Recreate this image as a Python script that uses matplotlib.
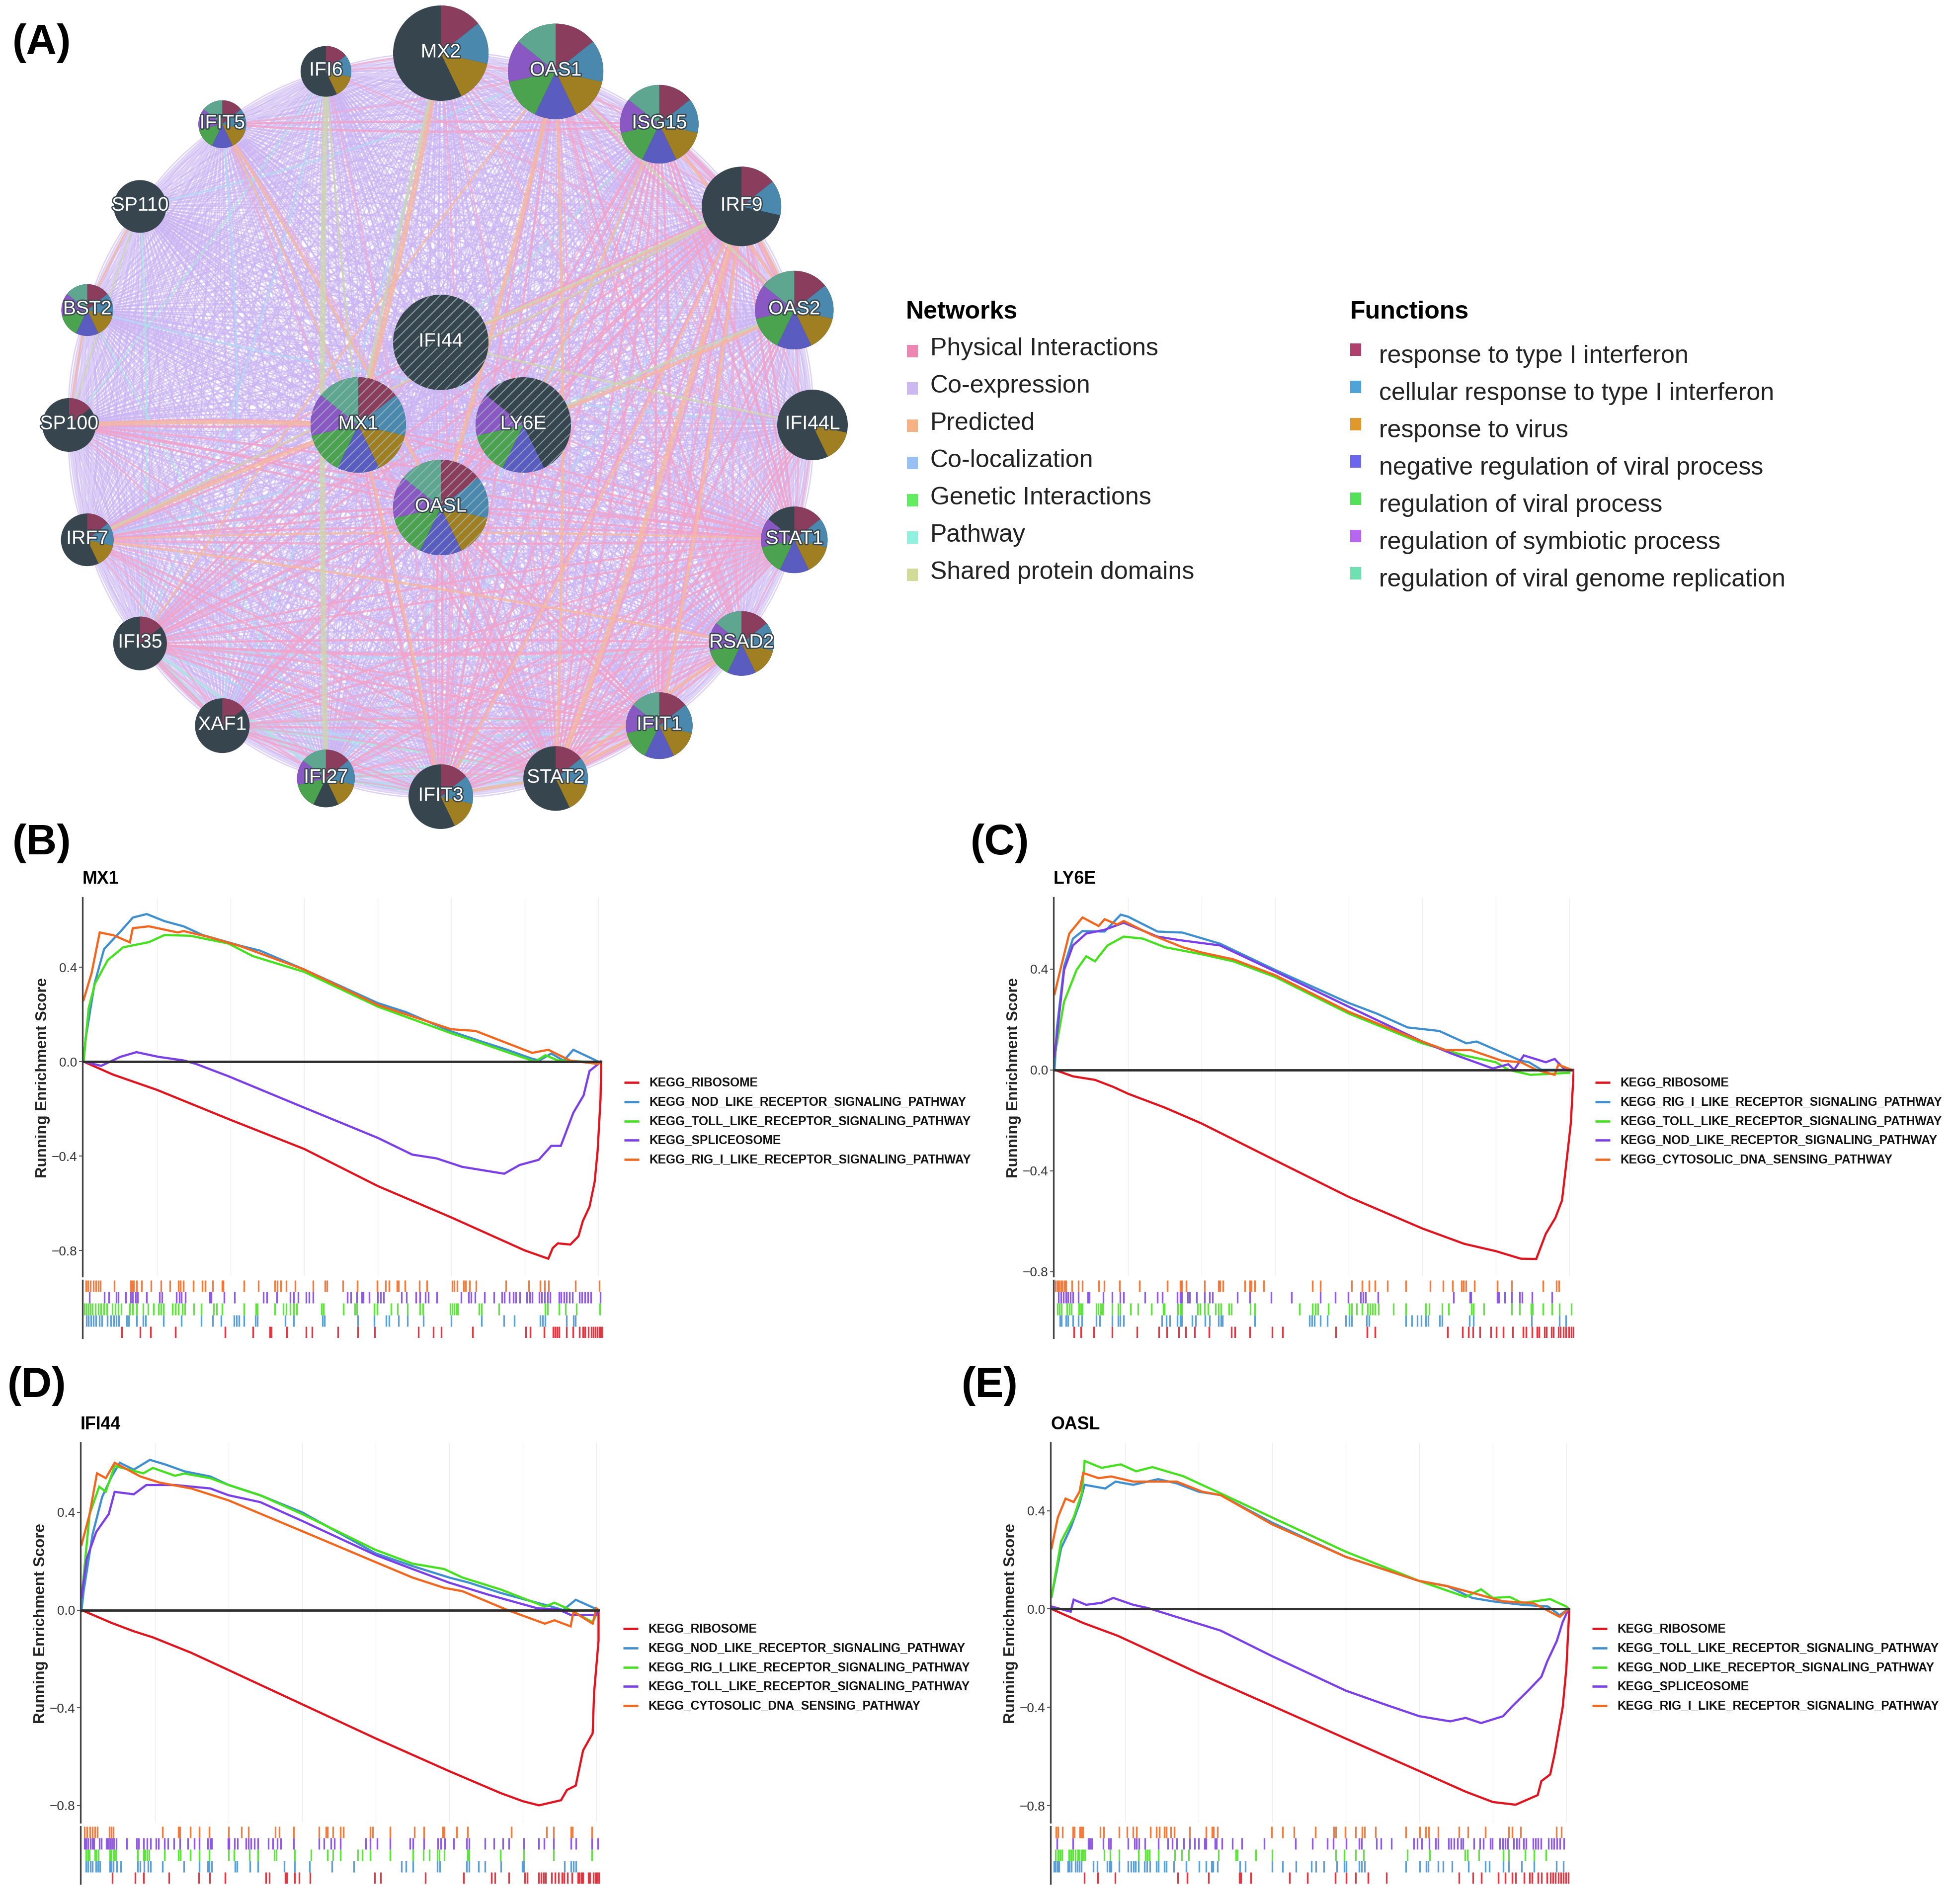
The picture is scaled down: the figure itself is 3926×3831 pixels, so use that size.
import numpy as np
import matplotlib
matplotlib.use('Agg')
import matplotlib.pyplot as plt
import matplotlib.patheffects as pe
from matplotlib.patches import Wedge, Circle, Rectangle
from matplotlib.collections import LineCollection

plt.rcParams['font.family'] = ['Liberation Sans', 'DejaVu Sans']
plt.rcParams['hatch.linewidth'] = 0.5

W, H = 3926, 3831
DPI = 300

# ---- panel A: network ----
RING_GENES = ['MX2', 'OAS1', 'ISG15', 'IRF9', 'OAS2', 'IFI44L', 'STAT1', 'RSAD2', 'IFIT1', 'STAT2',
              'IFIT3', 'IFI27', 'XAF1', 'IFI35', 'IRF7', 'SP100', 'BST2', 'SP110', 'IFIT5', 'IFI6']
RING_RADII = [96, 96, 79, 80, 79, 71, 67, 65, 67, 65, 65, 58, 55, 54, 53, 54, 52, 53, 48, 51]
QUERY_GENES = ['IFI44', 'LY6E', 'OASL', 'MX1']
QUERY_RADII = [96, 96, 96, 96]

FUNCTIONS = ['response to type I interferon', 'cellular response to type I interferon', 'response to virus',
             'negative regulation of viral process', 'regulation of viral process',
             'regulation of symbiotic process', 'regulation of viral genome replication']
FUNCTION_COLORS = ['#8a3d5c', '#4a88ad', '#a07f22', '#5a5cc0', '#4ba34f', '#8a58c2', '#5ea68f']
FUNCTION_SWATCH = ['#b0406e', '#4fa3d8', '#e0982c', '#6a66ee', '#55e05a', '#b866f0', '#70e0b0']
# which functions (index into FUNCTIONS) each gene has
GENE_FUNCTIONS = {
    'MX2': [0, 1, 2], 'OAS1': [0, 1, 2, 3, 4, 5, 6], 'ISG15': [0, 1, 2, 3, 4, 5, 6], 'IRF9': [0, 1],
    'OAS2': [0, 1, 2, 3, 4, 5, 6], 'IFI44L': [2], 'STAT1': [0, 1, 2, 3, 4, 5], 'RSAD2': [0, 1, 2, 3, 4, 5, 6],
    'IFIT1': [0, 1, 2, 3, 4, 5, 6], 'STAT2': [0, 1, 2], 'IFIT3': [0, 1, 2], 'IFI27': [0, 1, 2, 4, 5, 6],
    'XAF1': [0], 'IFI35': [0], 'IRF7': [0, 1, 2], 'SP100': [0], 'BST2': [0, 1, 2, 3, 4, 5, 6], 'SP110': [],
    'IFIT5': [0, 1, 2, 3, 4, 5, 6], 'IFI6': [0, 1, 2], 'IFI44': [], 'LY6E': [3, 4, 5],
    'OASL': [0, 1, 2, 3, 4, 5, 6], 'MX1': [0, 1, 2, 3, 4, 5, 6],
}

NETWORKS = ['Physical Interactions', 'Co-expression', 'Predicted', 'Co-localization',
            'Genetic Interactions', 'Pathway', 'Shared protein domains']
NETWORK_SWATCH = ['#ee86b4', '#cdb8f2', '#f6b184', '#97c1f5', '#62ec62', '#90f2de', '#d2dc98']

PHYSICAL_THICK = {
    'STAT1': ['IRF9', 'STAT2', 'IRF7', 'IFI35', 'MX1', 'OASL', 'IFIT3', 'XAF1', 'IFI27', 'SP100', 'ISG15'],
    'STAT2': ['IRF9', 'IRF7', 'IFI35', 'IFIT1', 'RSAD2', 'OAS2', 'ISG15', 'OASL', 'MX1', 'IFI44L'],
    'IRF9': ['IFI35', 'IRF7', 'ISG15', 'OASL', 'IFIT1', 'IFIT3', 'OAS2', 'XAF1'],
    'OASL': ['IRF7', 'IFI35', 'IFIT1', 'IFIT3', 'SP100', 'ISG15'],
    'MX1': ['SP100', 'IRF7', 'IFI35', 'IFIT3'],
    'IFIT1': ['IFIT3', 'ISG15', 'IFI35', 'XAF1'],
    'IFIT3': ['ISG15', 'XAF1', 'RSAD2'],
    'OAS1': ['OAS2', 'IFIT3', 'RSAD2'],
    'IFIT5': ['ISG15'],
    'IFI35': ['XAF1', 'RSAD2'],
}
PHYSICAL_THIN = {
    'IFI6': ['MX2', 'OAS1', 'OAS2', 'IFIT3'],
    'MX2': ['ISG15', 'IRF9', 'OAS2', 'STAT2', 'IFIT3', 'STAT1', 'RSAD2'],
    'IRF7': ['RSAD2', 'IFIT1', 'IFIT3', 'XAF1', 'IFI27'],
    'ISG15': ['OAS2', 'RSAD2', 'STAT1', 'XAF1'],
    'OAS2': ['STAT1', 'IFIT1', 'IFIT3', 'XAF1', 'IFI27'],
    'RSAD2': ['STAT1', 'IFI27', 'XAF1', 'IFI35', 'IRF9'],
    'IFI27': ['STAT2', 'IFIT1', 'IFIT3', 'IFI35', 'IRF9'],
    'XAF1': ['STAT2', 'IFI27', 'RSAD2', 'OASL'],
    'IFI44L': ['STAT1', 'IRF9', 'IFIT1', 'IFI27', 'IFIT3'],
    'OAS1': ['STAT1', 'STAT2', 'IRF9', 'IFIT1', 'IFIT5'],
    'SP100': ['STAT2', 'IFIT3'],
    'LY6E': ['STAT1', 'STAT2', 'IFI35', 'IRF7', 'IFIT3'],
    'IFI44': ['STAT1', 'IFI35', 'IFIT3'],
    'IFIT5': ['OASL', 'IFIT3'],
}
PREDICTED = [('IRF9', 'STAT2', 2.4), ('IRF9', 'IFIT1', 1.6), ('IRF9', 'IFI44', 1.6), ('OAS2', 'LY6E', 1.8),
             ('SP100', 'MX1', 2.2), ('IRF7', 'MX1', 2.0), ('IRF7', 'RSAD2', 1.2), ('IRF7', 'STAT1', 1.0),
             ('MX2', 'MX1', 2.6), ('OAS1', 'STAT2', 1.4), ('OAS1', 'OASL', 2.2), ('ISG15', 'LY6E', 1.2),
             ('IFIT5', 'OASL', 1.4), ('IFIT5', 'MX1', 1.0), ('STAT2', 'IFIT1', 1.6), ('STAT2', 'RSAD2', 1.6),
             ('IRF9', 'OAS2', 1.6), ('ISG15', 'OAS2', 1.4), ('BST2', 'SP110', 1.0), ('SP100', 'BST2', 1.0),
             ('IFI35', 'OAS1', 1.0), ('IFIT3', 'STAT2', 1.6), ('MX1', 'IFIT3', 1.4), ('IRF9', 'IFIT3', 1.2)]
SHARED = [('IFI6', 'IFI27', 2.6), ('MX2', 'MX1', 1.4), ('OAS2', 'LY6E', 1.0), ('OAS1', 'OAS2', 1.0),
          ('IFI44', 'IFI44L', 1.0), ('IRF7', 'IRF9', 1.0), ('SP110', 'SP100', 0.8), ('IFI6', 'MX1', 1.0),
          ('IFI44', 'IRF9', 1.0)]
PATHWAY = [('SP110', 'IFI35', 0.8), ('XAF1', 'STAT2', 1.0), ('IFI27', 'IFIT3', 1.4), ('IFI35', 'IFI27', 1.2),
           ('IFIT3', 'STAT2', 1.2), ('XAF1', 'IFIT1', 0.8), ('IFI27', 'STAT2', 1.0), ('ISG15', 'IFI44', 0.6),
           ('IFI35', 'XAF1', 1.2), ('IFI6', 'SP100', 0.6), ('BST2', 'IFI27', 0.6), ('IFIT1', 'IFI27', 0.8)]
COLOCAL = [('IFI27', 'IFIT3'), ('XAF1', 'IFIT3'), ('IFI35', 'IFIT3'), ('STAT2', 'IFI27'), ('IFIT1', 'XAF1'),
           ('OAS1', 'SP110'), ('IFI6', 'IFI35'), ('MX2', 'XAF1'), ('ISG15', 'IFI27'), ('RSAD2', 'IFI35'),
           ('OAS2', 'IRF7'), ('IFI44L', 'BST2'), ('IFIT5', 'XAF1'), ('IRF9', 'IFI27')]

# ---- panels B-E: running score curves, (rank / 5000, running score) ----
B_RIBO = [(0, 0), (.4, -.055), (1, -.12), (2, -.247), (3, -.37), (4, -.527), (5, -.66), (6, -.80), (6.32, -.835),
          (6.38, -.79), (6.45, -.77), (6.62, -.775), (6.73, -.74), (6.79, -.675), (6.88, -.615), (6.95, -.51),
          (6.99, -.38), (7.03, -.16), (7.04, 0)]
B_NOD = [(0, 0), (.03, .1), (.15, .33), (.28, .477), (.5, .55), (.67, .61), (.86, .625), (1.1, .595), (1.36, .573),
         (1.62, .536), (2.14, .49), (2.4, .47), (3, .39), (4, .248), (4.38, .21), (4.98, .13), (5.41, .085),
         (5.76, .05), (6.1, .012), (6.2, .005), (6.36, .034), (6.53, .004), (6.66, .05), (7.0, 0)]
B_TOLL = [(0, 0), (.07, .226), (.155, .33), (.33, .43), (.54, .484), (.89, .506), (1.1, .536), (1.45, .533),
          (1.97, .5), (2.3, .447), (3, .38), (4, .233), (5, .12), (5.41, .078), (5.76, .04), (6.14, 0), (6.28, .027),
          (6.45, .005), (7, -.003)]
B_SPLICE = [(0, 0), (.24, -.018), (.5, .02), (.72, .04), (1.02, .02), (1.36, .005), (1.53, -.01), (1.97, -.062),
            (3, -.195), (4, -.323), (4.47, -.394), (4.8, -.41), (5.15, -.446), (5.72, -.475), (5.93, -.438),
            (6.19, -.416), (6.36, -.357), (6.49, -.357), (6.66, -.217), (6.8, -.143), (6.88, -.04), (7, -.01), (7.03, 0)]
B_RIG = [(0, .26), (.11, .375), (.22, .547), (.41, .535), (.63, .505), (.67, .565), (.89, .573), (1.28, .547),
         (1.36, .553), (1.7, .528), (2.14, .488), (3, .39), (4, .24), (5, .137), (5.33, .13), (5.76, .078),
         (6.1, .037), (6.32, .05), (6.62, .004), (7, -.01), (7.03, 0)]

C_RIBO = [(0, 0), (.25, -.026), (.55, -.04), (.8, -.068), (1, -.095), (1.5, -.15), (2, -.213), (3, -.359), (4, -.504),
          (5, -.629), (5.57, -.69), (6, -.719), (6.34, -.749), (6.55, -.75), (6.68, -.65), (6.81, -.587), (6.9, -.518),
          (6.95, -.393), (7.02, -.213), (7.06, 0)]
C_RIG = [(0, 0), (.03, .16), (.13, .41), (.25, .52), (.38, .55), (.68, .548), (.9, .615), (1, .607), (1.4, .548),
         (1.74, .544), (2.25, .5), (3, .396), (4, .265), (4.38, .223), (4.8, .168), (5.23, .154), (5.6, .105),
         (5.74, .112), (6.34, .036), (6.45, .03), (6.62, 0), (7, .0)]
C_TOLL = [(0, .05), (.13, .27), (.3, .396), (.43, .45), (.55, .43), (.72, .493), (.94, .528), (1.2, .52), (1.5, .486),
          (2, .458), (2.43, .43), (3, .368), (4, .223), (5, .105), (5.57, .057), (6, .03), (6.17, 0), (6.47, -.02),
          (7, -.012)]
C_NOD = [(0, .05), (.13, .396), (.25, .493), (.43, .54), (.68, .555), (.94, .583), (1.4, .528), (1.7, .514),
         (2.25, .493), (3, .39), (4, .25), (5, .112), (5.4, .064), (5.96, .005), (6.17, .022), (6.25, 0), (6.38, .057),
         (6.68, .03), (6.8, .043), (6.94, 0), (7.03, 0)]
C_DNA = [(0, .3), (.09, .41), (.2, .54), (.38, .604), (.6, .57), (.68, .597), (.85, .576), (.94, .59), (1.32, .535),
         (1.74, .486), (2, .465), (2.43, .438), (3, .375), (4, .23), (5, .112), (5.32, .078), (5.66, .078), (6.08, .036),
         (6.34, .03), (6.55, 0), (6.8, -.02), (6.85, .02), (7.03, 0)]

D_RIBO = [(0, 0), (.41, -.053), (.71, -.087), (.97, -.112), (1.49, -.175), (2, -.246), (3, -.386), (4, -.526), (5, -.66),
          (5.7, -.75), (6, -.783), (6.22, -.8), (6.52, -.779), (6.6, -.737), (6.72, -.719), (6.82, -.575), (6.95, -.505),
          (6.97, -.337), (7.03, -.126), (7.03, 0)]
D_NOD = [(0, 0), (.03, .08), (.15, .31), (.28, .463), (.41, .547), (.52, .603), (.71, .575), (.93, .615), (1.14, .596),
         (1.4, .568), (1.75, .547), (2, .512), (2.43, .47), (3, .4), (4, .232), (4.5, .18), (5, .133), (5.27, .112),
         (5.7, .07), (6.04, .042), (6.39, .014), (6.55, 0), (6.72, .042), (7.03, 0)]
D_RIG = [(0, .05), (.11, .393), (.24, .505), (.33, .485), (.45, .59), (.84, .56), (.97, .582), (1.27, .55), (1.4, .559),
         (1.75, .54), (2, .512), (2.43, .47), (3, .393), (4, .246), (4.5, .19), (4.93, .168), (5.18, .133), (5.7, .084),
         (6.3, .014), (6.43, .03), (6.65, 0), (6.95, -.05), (7.03, 0)]
D_TOLL = [(0, .05), (.07, .21), (.2, .32), (.37, .393), (.45, .484), (.71, .474), (.88, .512), (1.27, .512), (1.75, .498),
          (2, .47), (2.43, .442), (3, .365), (4, .225), (4.5, .168), (5, .112), (5.53, .063), (6.2, .007), (6.48, .003),
          (6.65, -.02), (7, -.02), (7.03, 0)]
D_DNA = [(0, .267), (.11, .393), (.21, .56), (.33, .54), (.45, .603), (.8, .547), (1.06, .522), (1.49, .498), (2, .449),
         (3, .323), (4, .196), (4.5, .133), (4.93, .091), (5.18, .077), (5.79, 0), (6.3, -.056), (6.43, -.042),
         (6.65, -.067), (6.69, -.007), (6.95, -.056), (7, .007), (7.03, 0)]

E_RIBO = [(0, 0), (.43, -.057), (.9, -.109), (1.45, -.185), (2, -.262), (3, -.394), (4, -.527), (5, -.659), (5.63, -.743),
          (6, -.785), (6.31, -.796), (6.61, -.757), (6.66, -.7), (6.78, -.673), (6.84, -.59), (6.95, -.4), (7, -.241),
          (7.04, 0)]
E_TOLL = [(0, .05), (.13, .247), (.26, .33), (.38, .428), (.45, .505), (.73, .49), (.87, .518), (1.11, .505), (1.45, .528),
          (1.7, .511), (2, .477), (2.3, .463), (3, .351), (4, .212), (5, .114), (5.38, .093), (5.72, .045), (6, .031),
          (6.4, .017), (6.75, .01), (6.91, -.025), (7.03, 0)]
E_NOD = [(0, .05), (.13, .275), (.3, .372), (.41, .47), (.45, .602), (.68, .574), (.94, .588), (1.15, .56), (1.37, .577),
         (1.79, .54), (2, .511), (2.3, .47), (3, .372), (4, .233), (5, .114), (5.63, .049), (5.84, .08), (6, .045),
         (6.23, .049), (6.4, .024), (6.78, .04), (7, .01), (7.03, 0)]
E_SPLICE = [(0, .01), (.26, -.011), (.3, .038), (.47, .017), (.68, .025), (.84, .045), (1.11, .017), (1.32, .003),
            (1.62, -.025), (2.3, -.088), (3, -.192), (4, -.332), (4.52, -.387), (5, -.436), (5.42, -.457), (5.63, -.443),
            (5.84, -.464), (6.14, -.436), (6.27, -.394), (6.48, -.332), (6.66, -.276), (6.74, -.213), (6.87, -.13),
            (6.95, -.053), (7.03, 0)]
E_RIG = [(0, .247), (.085, .372), (.19, .449), (.3, .435), (.38, .477), (.43, .553), (.64, .532), (.81, .539), (1.11, .518),
         (1.7, .518), (2.05, .477), (2.3, .463), (3, .344), (4, .212), (5, .114), (5.38, .093), (5.72, .066), (6.14, .031),
         (6.55, .024), (6.91, -.032), (7.03, 0)]

# ---- hit positions, digitised along the rug; converted to rank with each panel's origin and scale ----
B_RUG_ORANGE = [95, 100, 107, 115, 122, 128, 133, 170, 212, 216, 220, 228, 241, 266, 292, 316, 337, 343, 351, 377, 400, 408,
                428, 452, 455, 510, 547, 590, 597, 606, 620, 643, 690, 722, 727, 769, 806, 859, 880, 890, 910, 915, 932,
                969, 989, 1055, 1060, 1068, 1085, 1090, 1101, 1117, 1196, 1256, 1286, 1297, 1308, 1378, 1440]
B_RUG_PURPLE = [104, 143, 155, 175, 180, 200, 212, 218, 225, 231, 254, 288, 295, 332, 340, 346, 356, 420, 424, 457, 485, 560,
                570, 595, 630, 640, 652, 672, 680, 690, 780, 790, 805, 818, 822, 838, 860, 868, 875, 922, 935, 960, 970,
                985, 992, 1015, 1078, 1098, 1105, 1115, 1140, 1165, 1185, 1192, 1205, 1215, 1222, 1232, 1250, 1258, 1265,
                1283, 1290, 1297, 1305, 1312, 1335, 1340, 1348, 1355, 1362, 1370, 1388, 1395, 1403, 1410, 1418, 1443]
B_RUG_GREEN = [92, 97, 102, 107, 112, 120, 128, 135, 142, 150, 165, 172, 180, 188, 210, 218, 228, 245, 258, 272, 285, 292, 298,
               322, 330, 338, 348, 355, 378, 398, 430, 438, 452, 510, 541, 545, 590, 612, 620, 630, 640, 647, 712, 718, 770,
               800, 805, 850, 858, 895, 912, 938, 970, 978, 1050, 1055, 1060, 1065, 1070, 1125, 1132, 1178, 1298, 1305, 1335,
               1352, 1380, 1442]
B_RUG_BLUE = [97, 102, 108, 115, 122, 130, 137, 152, 160, 168, 175, 182, 202, 208, 228, 245, 252, 298, 345, 397, 428, 450, 483,
              490, 497, 510, 540, 545, 618, 640, 715, 720, 808, 850, 882, 890, 915, 938, 980, 1053, 1132, 1190, 1218, 1285,
              1292, 1298, 1355, 1373, 1378]
B_RUG_RED = [189, 237, 265, 330, 460, 533, 577, 581, 621, 672, 688, 756, 808, 852, 966, 1006, 1027, 1109, 1248, 1260, 1296,
             1320, 1325, 1330, 1335, 1355, 1372, 1388, 1398, 1403, 1412, 1420, 1425, 1430, 1435, 1440, 1445, 1450]

C_RUG_ORANGE = [33, 38, 43, 48, 53, 58, 63, 80, 98, 110, 157, 172, 216, 273, 353, 390, 395, 408, 460, 500, 505, 513, 576, 590,
                595, 605, 630, 770, 792, 883, 912, 932, 950, 985, 1038, 1108, 1145, 1172, 1198, 1204, 1210, 1235, 1300, 1342,
                1431, 1470, 1477]
C_RUG_PURPLE = [42, 48, 55, 62, 68, 75, 82, 98, 125, 130, 170, 195, 218, 228, 290, 325, 340, 382, 390, 395, 412, 417, 438, 460,
                475, 483, 555, 590, 652, 710, 792, 836, 872, 908, 915, 922, 958, 1175, 1222, 1225, 1300, 1305, 1322, 1342,
                1365, 1372, 1400, 1457]
C_RUG_GREEN = [38, 44, 50, 66, 72, 78, 100, 105, 110, 150, 156, 162, 168, 195, 212, 218, 248, 270, 308, 342, 345, 383, 390, 395,
               440, 447, 460, 470, 492, 500, 507, 530, 537, 592, 605, 733, 770, 778, 785, 816, 875, 882, 897, 912, 928, 935,
               943, 950, 960, 1002, 1038, 1095, 1105, 1142, 1160, 1226, 1232, 1262, 1342, 1365, 1397, 1402, 1432, 1457, 1478,
               1512]
C_RUG_BLUE = [45, 50, 62, 68, 82, 98, 108, 150, 160, 195, 212, 218, 228, 338, 350, 360, 382, 390, 395, 425, 435, 462, 475, 500,
              507, 512, 605, 762, 768, 775, 792, 812, 865, 875, 883, 925, 933, 1038, 1055, 1070, 1082, 1095, 1102, 1135, 1142,
              1220, 1232, 1398, 1478, 1497]
C_RUG_RED = [85, 105, 143, 195, 266, 330, 352, 386, 407, 432, 473, 538, 548, 590, 655, 684, 837, 927, 950, 1158, 1200, 1217,
             1230, 1250, 1282, 1298, 1318, 1344, 1375, 1383, 1400, 1415, 1420, 1436, 1442, 1456, 1462, 1475, 1482, 1490, 1497,
             1505, 1512, 1518]

D_RUG_ORANGE = [25, 33, 41, 48, 55, 62, 97, 103, 108, 250, 295, 300, 330, 356, 385, 440, 478, 498, 575, 586, 628, 700, 720, 725,
                740, 762, 770, 848, 855, 905, 975, 1002, 1056, 1060, 1097, 1128, 1253, 1355, 1375, 1425, 1430, 1485]
D_RUG_PURPLE = [25, 30, 36, 42, 48, 53, 68, 74, 88, 93, 98, 104, 110, 117, 147, 175, 182, 195, 205, 215, 232, 238, 255, 265, 283,
                300, 323, 342, 356, 380, 387, 392, 438, 442, 457, 466, 490, 497, 505, 515, 525, 555, 568, 580, 590, 628, 700,
                715, 735, 745, 762, 835, 848, 867, 905, 962, 970, 1002, 1042, 1050, 1062, 1088, 1125, 1132, 1178, 1204, 1230,
                1247, 1290, 1333, 1348, 1375, 1425, 1440, 1485, 1502]
D_RUG_GREEN = [30, 35, 40, 55, 60, 65, 98, 103, 110, 115, 178, 195, 200, 205, 212, 255, 295, 302, 330, 356, 385, 440, 456, 500,
               525, 572, 578, 630, 677, 725, 740, 762, 812, 825, 848, 905, 970, 1000, 1018, 1040, 1046, 1060, 1128, 1132, 1222,
               1290, 1375, 1485]
D_RUG_BLUE = [30, 36, 42, 48, 58, 64, 70, 98, 103, 108, 118, 130, 178, 185, 197, 208, 215, 250, 312, 356, 380, 385, 392, 458, 465,
              502, 525, 600, 630, 673, 738, 800, 938, 950, 970, 1040, 1048, 1125, 1132, 1160, 1178, 1224, 1285, 1290, 1406, 1425,
              1432, 1440]
D_RUG_RED = [106, 172, 196, 268, 355, 386, 430, 548, 558, 603, 607, 630, 643, 675, 860, 878, 1007, 1117, 1197, 1207, 1247, 1293,
             1300, 1333, 1340, 1346, 1352, 1370, 1380, 1390, 1400, 1405, 1415, 1428, 1445, 1450, 1455, 1460, 1475, 1480, 1490,
             1495, 1500, 1505]

E_RUG_ORANGE = [33, 38, 52, 82, 86, 102, 106, 110, 160, 170, 214, 237, 254, 264, 304, 322, 330, 345, 350, 363, 373, 417, 465, 482,
                486, 498, 653, 685, 718, 779, 832, 838, 865, 895, 913, 920, 952, 1040, 1080, 1097, 1105, 1132, 1192, 1218, 1268,
                1336, 1346, 1370, 1472, 1487]
E_RUG_PURPLE = [35, 82, 125, 130, 135, 168, 185, 190, 240, 258, 265, 272, 288, 328, 355, 368, 380, 400, 417, 432, 443, 460, 465, 490,
                495, 510, 540, 567, 632, 722, 770, 814, 830, 868, 905, 912, 955, 968, 998, 1062, 1072, 1085, 1106, 1125, 1132,
                1162, 1170, 1178, 1188, 1198, 1204, 1235, 1252, 1262, 1282, 1288, 1310, 1318, 1325, 1332, 1350, 1358, 1365, 1378,
                1385, 1405, 1412, 1420, 1428, 1450, 1458, 1466, 1474, 1482, 1494]
E_RUG_GREEN = [32, 38, 44, 50, 70, 75, 82, 88, 95, 100, 105, 110, 115, 172, 188, 214, 270, 290, 296, 302, 328, 375, 395, 415, 500,
               550, 555, 607, 655, 838, 862, 895, 918, 1043, 1108, 1210, 1216, 1250, 1320, 1335, 1382, 1408, 1443]
E_RUG_BLUE = [27, 32, 37, 42, 67, 72, 77, 88, 94, 100, 106, 140, 152, 180, 187, 192, 214, 240, 248, 256, 262, 270, 287, 295, 303,
              322, 328, 345, 350, 372, 408, 445, 465, 480, 485, 498, 562, 577, 655, 685, 724, 768, 780, 804, 840, 862, 868, 905,
              912, 920, 1040, 1080, 1098, 1104, 1132, 1147, 1172, 1220, 1268, 1280, 1320, 1335, 1372, 1408, 1472, 1492]
E_RUG_RED = [114, 153, 203, 383, 410, 472, 560, 565, 593, 705, 756, 837, 868, 895, 931, 984, 1192, 1232, 1257, 1305, 1325, 1345,
             1355, 1380, 1395, 1403, 1420, 1430, 1445, 1455, 1462, 1470, 1478, 1485, 1492, 1500, 1507]

KEGG_NAMES = {
    'RIBO': 'KEGG_RIBOSOME', 'NOD': 'KEGG_NOD_LIKE_RECEPTOR_SIGNALING_PATHWAY',
    'TOLL': 'KEGG_TOLL_LIKE_RECEPTOR_SIGNALING_PATHWAY', 'SPLICE': 'KEGG_SPLICEOSOME',
    'RIG': 'KEGG_RIG_I_LIKE_RECEPTOR_SIGNALING_PATHWAY', 'DNA': 'KEGG_CYTOSOLIC_DNA_SENSING_PATHWAY',
}
SERIES_COLORS = ['#e0141f', '#3f8fd0', '#45e01e', '#7a3fe6', '#f2661e']
SCORE_TICKS = [-0.8, -0.4, 0.0, 0.4]
RANK_GRID = [5000, 10000, 15000, 20000, 25000, 30000, 35000]


def px_axes(fig, x0, y0, x1, y1):
    # axes from pixel box, y counted from the top like in the image
    return fig.add_axes([x0 / W, 1 - y1 / H, (x1 - x0) / W, (y1 - y0) / H])


def bezier(p, q, bend, n=18):
    p, q = np.asarray(p), np.asarray(q)
    d = q - p
    ctrl = (p + q) / 2 + bend * np.array([-d[1], d[0]])
    t = np.linspace(0, 1, n)[:, None]
    return (1 - t) ** 2 * p + 2 * t * (1 - t) * ctrl + t ** 2 * q


def draw_network(ax):
    pos = {}
    size = {}
    for i, g in enumerate(RING_GENES):
        a = np.pi / 2 - i * 2 * np.pi / len(RING_GENES)
        pos[g] = (np.cos(a), np.sin(a))
        size[g] = RING_RADII[i] / 748
    for i, g in enumerate(QUERY_GENES):
        a = np.pi / 2 - i * 2 * np.pi / len(QUERY_GENES)
        pos[g] = (0.222 * np.cos(a), 0.222 * np.sin(a))
        size[g] = QUERY_RADII[i] / 748

    genes = RING_GENES + QUERY_GENES
    # co-expression: every pair, a few strands each
    segs = []
    for i, a in enumerate(genes):
        for b in genes[i + 1:]:
            for bend in (-0.09, -0.045, -0.01, 0.03, 0.07, 0.11):
                segs.append(bezier(pos[a], pos[b], bend))
    ax.add_collection(LineCollection(segs, colors='#cbb5f3', linewidths=0.62, alpha=0.62, zorder=1))
    # outer hull, pale ring of neighbour links
    segs = []
    n = len(RING_GENES)
    for i in range(n):
        for step in (1, 2):
            segs.append(bezier(pos[RING_GENES[i]], pos[RING_GENES[(i + step) % n]], -0.05))
            segs.append(bezier(pos[RING_GENES[i]], pos[RING_GENES[(i + step) % n]], 0.04))
    ax.add_collection(LineCollection(segs, colors='#ddd0f7', linewidths=1.2, alpha=0.7, zorder=1))

    segs = [bezier(pos[a], pos[b], 0.05) for a, b in COLOCAL]
    ax.add_collection(LineCollection(segs, colors='#b5d6f4', linewidths=1.0, alpha=0.8, zorder=2))
    segs = [bezier(pos[a], pos[b], 0.03) for a, b, _ in PATHWAY]
    ax.add_collection(LineCollection(segs, colors='#a6e8e0', alpha=0.8, zorder=2,
                                     linewidths=[w for _, _, w in PATHWAY]))

    segs = [bezier(pos[a], pos[b], 0.04) for a, bs in PHYSICAL_THIN.items() for b in bs]
    ax.add_collection(LineCollection(segs, colors='#f3a9ce', linewidths=0.8, alpha=0.75, zorder=3))
    segs = []
    for a, bs in PHYSICAL_THICK.items():
        for b in bs:
            segs.append(bezier(pos[a], pos[b], -0.035))
            segs.append(bezier(pos[a], pos[b], 0.012))
    ax.add_collection(LineCollection(segs, colors='#f4a2c8', linewidths=1.0, alpha=0.8, zorder=3))

    segs = [bezier(pos[a], pos[b], 0.02) for a, b, _ in PREDICTED]
    ax.add_collection(LineCollection(segs, colors='#f5b8a0', alpha=0.8, zorder=4,
                                     linewidths=[w for _, _, w in PREDICTED]))
    segs = [bezier(pos[a], pos[b], -0.01) for a, b, _ in SHARED]
    ax.add_collection(LineCollection(segs, colors='#cdd6b0', alpha=0.8, zorder=4,
                                     linewidths=[w for _, _, w in SHARED]))

    for g in genes:
        x, y = pos[g]
        r = size[g]
        ax.add_patch(Circle((x, y), r, fc='#37464e', ec='none', zorder=5))
        for k in GENE_FUNCTIONS[g]:
            # slices run clockwise from twelve o'clock, seven equal parts
            t2 = 90 - k * 360 / 7
            t1 = t2 - 360 / 7
            ax.add_patch(Wedge((x, y), r, t1, t2, fc=FUNCTION_COLORS[k], ec='none', zorder=6))
        if g in QUERY_GENES:
            ax.add_patch(Circle((x, y), r, fill=False, hatch='/////', ec=(0.66, 0.76, 0.76, 0.7), lw=0, zorder=7))
        ax.text(x, y + 0.002, g, color='white', fontsize=9.4, ha='center', va='center', zorder=8,
                path_effects=[pe.withStroke(linewidth=1.2, foreground='#37464e')])


def draw_gsea(fig, ov, name, left, top, bottom, zero_y, px_per_04, rug_top, rug_bottom, curves, rugs,
              origin, scale, leg_x, leg_y):
    right = left + 2 + 7.07 * 148
    rank_max = 7.07 * 5000
    ax = px_axes(fig, left, top, right, bottom)
    per_unit = px_per_04 / 0.4
    ax.set_ylim((zero_y - bottom) / per_unit, (zero_y - top) / per_unit)
    ax.set_xlim(-70, rank_max)
    ax.vlines(RANK_GRID, *ax.get_ylim(), color='#eeeef2', lw=0.35, zorder=0)
    for (key, data), c in zip(curves, SERIES_COLORS):
        xy = np.array(data)
        ax.plot(xy[:, 0] * 5000, xy[:, 1], color=c, lw=1.05, zorder=2, solid_joinstyle='miter')
    ax.plot([0, 7.03 * 5000], [0, 0], color='#2e2e2e', lw=1.15, zorder=3)
    ax.set_xticks([])
    ax.set_yticks(SCORE_TICKS)
    ax.set_yticklabels(['\u22120.8', '\u22120.4', '0.0', '0.4'], fontsize=6.3, color='#333333')
    ax.tick_params(axis='y', length=1.6, width=0.4, pad=1, color='#333333')
    for s in ('top', 'right', 'bottom'):
        ax.spines[s].set_visible(False)
    ax.spines['left'].set_color('#444444')
    ax.spines['left'].set_linewidth(0.8)
    ax.patch.set_alpha(0)

    rx = px_axes(fig, left, rug_top, right, rug_bottom)
    rx.set_xlim(-70, rank_max)
    rx.set_ylim(0, 5)
    for row, (hits, c) in enumerate(zip(rugs, SERIES_COLORS)):
        ranks = (np.array(hits) - origin) / scale * 5000
        rx.vlines(ranks, row, row + 1, color=c, lw=0.8, alpha=0.85)
    rx.set_xticks([])
    rx.set_yticks([])
    for s in ('top', 'right', 'bottom'):
        rx.spines[s].set_visible(False)
    rx.spines['left'].set_color('#444444')
    rx.spines['left'].set_linewidth(0.8)
    rx.patch.set_alpha(0)

    ov.text(left, top - 37, name, fontsize=8.6, fontweight='bold', ha='left', va='center')
    ov.text(left - 80, (top + bottom) / 2 - 18, 'Running Enrichment Score', fontsize=7.5, fontweight='bold',
            rotation=90, ha='center', va='center', color='#222222')
    for i, ((key, _), c) in enumerate(zip(curves, SERIES_COLORS)):
        y = leg_y + i * 38.8
        ov.plot([leg_x, leg_x + 30], [y, y], color=c, lw=1.1, solid_capstyle='butt')
        ov.text(leg_x + 50, y, KEGG_NAMES[key], fontsize=5.9, fontweight='bold', ha='left', va='center',
                color='#111111')


fig = plt.figure(figsize=(W / DPI, H / DPI), dpi=DPI, facecolor='white')

net = px_axes(fig, 0, 0, 1780, 1700)
net.set_xlim((0 - 887) / 748, (1780 - 887) / 748)
net.set_ylim((855 - 1700) / 748, 855 / 748)
net.axis('off')
draw_network(net)

ov = fig.add_axes([0, 0, 1, 1], zorder=10)
ov.set_xlim(0, W)
ov.set_ylim(H, 0)
ov.axis('off')

for label, x, y in [('(A)', 25, 87), ('(B)', 25, 1697), ('(C)', 1953, 1697), ('(D)', 15, 2789), ('(E)', 1935, 2789)]:
    ov.text(x, y, label, fontsize=20.5, fontweight='bold', ha='left', va='center')

ov.text(1823, 628, 'Networks', fontsize=12, fontweight='bold', ha='left', va='center')
ov.text(2717, 628, 'Functions', fontsize=12, fontweight='bold', ha='left', va='center')
for i, (t, c) in enumerate(zip(NETWORKS, NETWORK_SWATCH)):
    y = 702 + i * 75
    ov.add_patch(Rectangle((1825, y - 8), 22, 25, fc=c, ec='none'))
    ov.text(1872, y, t, fontsize=12, ha='left', va='center', color='#222222')
for i, (t, c) in enumerate(zip(FUNCTIONS, FUNCTION_SWATCH)):
    y = 717 + i * 75
    ov.add_patch(Rectangle((2717, y - 26), 22, 25, fc=c, ec='none'))
    ov.text(2775, y, t, fontsize=12, ha='left', va='center', color='#222222')

draw_gsea(fig, ov, 'MX1', 166, 1806, 2568, 2136, 190, 2576, 2692,
          [('RIBO', B_RIBO), ('NOD', B_NOD), ('TOLL', B_TOLL), ('SPLICE', B_SPLICE), ('RIG', B_RIG)],
          [B_RUG_RED, B_RUG_BLUE, B_RUG_GREEN, B_RUG_PURPLE, B_RUG_ORANGE], 89, 192.7, 1256, 2178)
draw_gsea(fig, ov, 'LY6E', 2120, 1806, 2568, 2152.5, 203, 2576, 2692,
          [('RIBO', C_RIBO), ('RIG', C_RIG), ('TOLL', C_TOLL), ('NOD', C_NOD), ('DNA', C_DNA)],
          [C_RUG_RED, C_RUG_BLUE, C_RUG_GREEN, C_RUG_PURPLE, C_RUG_ORANGE], 30, 211, 3210, 2178)
draw_gsea(fig, ov, 'IFI44', 162, 2903, 3667, 3239.5, 196.5, 3675, 3790,
          [('RIBO', D_RIBO), ('NOD', D_NOD), ('RIG', D_RIG), ('TOLL', D_TOLL), ('DNA', D_DNA)],
          [D_RUG_RED, D_RUG_BLUE, D_RUG_GREEN, D_RUG_PURPLE, D_RUG_ORANGE], 17, 211.6, 1254, 3277)
draw_gsea(fig, ov, 'OASL', 2114, 2903, 3667, 3237.4, 197.9, 3675, 3790,
          [('RIBO', E_RIBO), ('TOLL', E_TOLL), ('NOD', E_NOD), ('SPLICE', E_SPLICE), ('RIG', E_RIG)],
          [E_RUG_RED, E_RUG_BLUE, E_RUG_GREEN, E_RUG_PURPLE, E_RUG_ORANGE], 20, 211.6, 3204, 3277)

fig.savefig('out.png', dpi=DPI)
